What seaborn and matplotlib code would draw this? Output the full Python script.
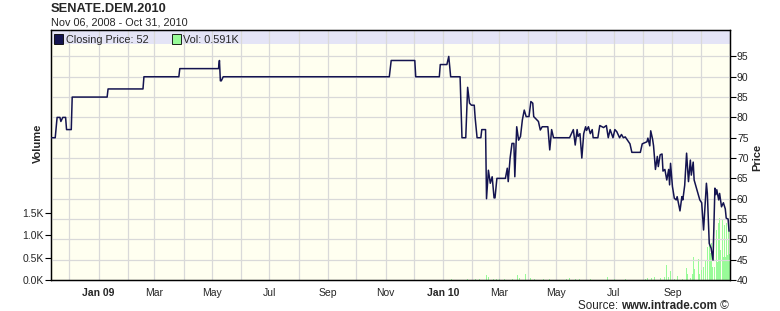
import matplotlib
matplotlib.use("Agg")
import matplotlib.pyplot as plt
import matplotlib.dates as mdates
from matplotlib.patches import Rectangle
import seaborn as sns
import pandas as pd

# ---------------- data ----------------
price_dates = [
    "2008-11-11", "2008-11-16", "2008-11-18", "2008-11-21", "2008-11-22", "2008-11-24", "2008-11-27",
    "2008-11-28", "2008-12-03", "2008-12-04",
    "2009-01-10", "2009-01-11", "2009-02-17", "2009-02-18", "2009-03-27", "2009-03-28", "2009-05-08",
    "2009-05-09", "2009-05-10", "2009-05-11", "2009-05-13",
    "2009-11-05", "2009-11-07", "2009-12-02", "2009-12-03", "2009-12-28", "2009-12-29",
    "2010-01-05", "2010-01-07", "2010-01-09", "2010-01-19", "2010-01-21", "2010-01-25", "2010-01-27",
    "2010-01-29", "2010-01-31", "2010-02-03", "2010-02-04", "2010-02-06", "2010-02-10", "2010-02-11",
    "2010-02-15", "2010-02-16", "2010-02-18", "2010-02-20", "2010-02-22", "2010-02-24", "2010-02-25",
    "2010-02-27", "2010-03-05", "2010-03-08", "2010-03-10", "2010-03-11", "2010-03-13", "2010-03-15",
    "2010-03-17", "2010-03-18", "2010-03-20", "2010-03-22", "2010-03-24", "2010-03-26", "2010-03-28",
    "2010-03-30", "2010-04-02", "2010-04-04", "2010-04-06", "2010-04-07", "2010-04-12", "2010-04-14",
    "2010-04-16", "2010-04-22", "2010-04-24", "2010-04-26", "2010-04-28", "2010-05-15", "2010-05-19",
    "2010-05-21", "2010-05-23", "2010-05-24", "2010-05-26", "2010-05-28", "2010-05-30", "2010-06-01",
    "2010-06-02", "2010-06-04", "2010-06-06", "2010-06-08", "2010-06-09", "2010-06-14", "2010-06-16",
    "2010-06-20", "2010-06-23", "2010-06-25", "2010-06-27", "2010-06-30", "2010-07-02", "2010-07-04",
    "2010-07-07", "2010-07-09", "2010-07-11", "2010-07-13", "2010-07-16", "2010-07-18", "2010-07-20",
    "2010-07-29", "2010-07-31", "2010-08-05", "2010-08-06", "2010-08-08", "2010-08-09", "2010-08-11",
    "2010-08-12", "2010-08-14", "2010-08-16", "2010-08-17", "2010-08-19", "2010-08-21", "2010-08-22",
    "2010-08-24", "2010-08-26", "2010-08-28", "2010-08-29", "2010-08-30", "2010-09-01", "2010-09-03",
    "2010-09-05", "2010-09-06", "2010-09-09", "2010-09-11", "2010-09-12", "2010-09-14", "2010-09-16",
    "2010-09-18", "2010-09-20", "2010-09-21", "2010-09-23", "2010-09-24", "2010-09-27", "2010-09-30",
    "2010-10-02", "2010-10-04", "2010-10-07", "2010-10-08", "2010-10-10", "2010-10-12", "2010-10-14",
    "2010-10-16", "2010-10-17", "2010-10-18", "2010-10-20", "2010-10-21", "2010-10-23", "2010-10-25",
    "2010-10-27", "2010-10-28", "2010-10-30", "2010-10-31",
]
price_values = [
    75, 75, 80, 80, 79, 80, 80,
    77, 77, 85,
    85, 87, 87, 90, 90, 92, 92,
    94, 89, 89, 90,
    90, 94, 94, 90, 90, 93,
    93, 95, 90, 90, 75, 75, 87.4,
    83.5, 83, 83, 79.8, 75, 75, 77,
    77, 60, 67, 63.8, 65.4, 60.2, 60.2,
    65, 65, 65, 67.5, 64.2, 70, 73.6,
    73.6, 65.4, 77.7, 74.4, 75.3, 79.4, 81.8,
    80.2, 80.2, 83.9, 83.5, 80.2, 79, 76.9,
    77.7, 77.7, 72, 77, 75, 75, 77,
    73.2, 77, 75.3, 76, 70, 76, 77.7,
    76.8, 77.7, 76, 77, 75, 75, 78,
    77.5, 78, 75, 77, 75, 77, 76.5,
    75, 75.8, 75, 75.2, 74.2, 73.5, 71.4,
    71.4, 73.5, 74, 74.9, 73, 76.7, 74.6,
    73, 67.2, 70.4, 67.9, 70.8, 71, 66.8,
    67.2, 64.6, 67.2, 63.4, 68.7, 63, 60.1,
    59.7, 60.5, 57, 60.5, 59.7, 63.3, 71.2,
    64.2, 69.5, 65.8, 69, 64.6, 62.1, 59.7,
    59, 52.3, 63.8, 61.3, 49, 47.8, 44.9,
    62.6, 61, 62.2, 59.7, 61.3, 58, 59,
    57.5, 55.2, 55, 52,
]

vol_dates = [
    "2009-02-18", "2009-05-23", "2010-01-10", "2010-01-21", "2010-01-27", "2010-02-04", "2010-02-09",
    "2010-02-16", "2010-02-18", "2010-02-23", "2010-02-27", "2010-03-02", "2010-03-07", "2010-03-16",
    "2010-03-21", "2010-03-23", "2010-03-29", "2010-04-01", "2010-04-04", "2010-04-08", "2010-04-17",
    "2010-04-24", "2010-05-12", "2010-05-15", "2010-05-21", "2010-05-26", "2010-06-06", "2010-06-24",
    "2010-07-02", "2010-07-13", "2010-07-18", "2010-08-03", "2010-08-06", "2010-08-10", "2010-08-13",
    "2010-08-19", "2010-08-22", "2010-08-24", "2010-08-26", "2010-08-28", "2010-08-30", "2010-09-03",
    "2010-09-06", "2010-09-09", "2010-09-12", "2010-09-16", "2010-09-17", "2010-09-20", "2010-09-22",
    "2010-09-23", "2010-09-24", "2010-09-26", "2010-09-27", "2010-09-29", "2010-09-30", "2010-10-02",
    "2010-10-04", "2010-10-06", "2010-10-08", "2010-10-10", "2010-10-11", "2010-10-12", "2010-10-13",
    "2010-10-14", "2010-10-15", "2010-10-16", "2010-10-18", "2010-10-19", "2010-10-20", "2010-10-21",
    "2010-10-22", "2010-10-24", "2010-10-25", "2010-10-26", "2010-10-27", "2010-10-28", "2010-10-29",
    "2010-10-30", "2010-10-31",
]
vol_values = [
    0.01, 0.01, 0.02, 0.01, 0.03, 0.02, 0.02,
    0.11, 0.06, 0.03, 0.02, 0.02, 0.02, 0.03,
    0.11, 0.05, 0.13, 0.07, 0.04, 0.03, 0.02,
    0.02, 0.03, 0.04, 0.03, 0.02, 0.02, 0.06,
    0.02, 0.03, 0.03, 0.03, 0.05, 0.04, 0.06,
    0.04, 0.15, 0.07, 0.34, 0.06, 0.20, 0.03,
    0.09, 0.05, 0.03, 0.28, 0.14, 0.05, 0.14,
    0.52, 0.25, 0.18, 0.24, 0.46, 0.14, 0.22,
    0.30, 0.45, 0.75, 0.90, 0.60, 0.82, 0.30,
    1.05, 0.75, 0.30, 1.12, 0.40, 1.27, 1.38,
    0.67, 1.35, 0.52, 1.23, 0.52, 1.27, 0.56,
    1.35, 0.59,
]

price_ticks = [40, 45, 50, 55, 60, 65, 70, 75, 80, 85, 90, 95]
vol_ticks = [0.0, 0.5, 1.0, 1.5]
vol_tick_labels = ["0.0K", "0.5K", "1.0K", "1.5K"]
x_tick_dates = ["2009-01-01", "2009-03-01", "2009-05-01", "2009-07-01", "2009-09-01", "2009-11-01",
                "2010-01-01", "2010-03-01", "2010-05-01", "2010-07-01", "2010-09-01"]
x_tick_labels = ["Jan 09", "Mar", "May", "Jul", "Sep", "Nov", "Jan 10", "Mar", "May", "Jul", "Sep"]

title = "SENATE.DEM.2010"
subtitle = "Nov 06, 2008 - Oct 31, 2010"
legend_price = "Closing Price: 52"
legend_vol = "Vol: 0.591K"

# ---------------- style ----------------
sns.set_style("white")
plt.rcParams['font.family'] = ['Liberation Sans', 'DejaVu Sans']

BG = '#fffff0'
GRID = '#d9d9d9'
BAND = '#e4e4f6'
LINE = '#141450'
VOL = '#98fb98'
FS = 7.5

W, H = 780, 311
fig = plt.figure(figsize=(W / 100, H / 100), dpi=100)
fig.patch.set_facecolor('white')

L, R, T, B = 50.5, 730, 30, 280
ax = fig.add_axes([L / W, (H - B) / H, (R - L) / W, (B - T) / H])
ax.set_facecolor(BG)

pdf = pd.DataFrame({"date": pd.to_datetime(price_dates), "price": price_values})
vdf = pd.DataFrame({"date": pd.to_datetime(vol_dates), "vol": vol_values})

# volume bars (left axis)
ax.bar(vdf["date"], vdf["vol"], width=0.95, color=VOL, linewidth=0, zorder=2)
ax.set_ylim(0, 5.6)
ax.set_yticks(vol_ticks)
ax.set_yticklabels(vol_tick_labels, fontsize=FS)
ax.set_xlim(pd.Timestamp("2008-11-11"), pd.Timestamp("2010-11-01"))
ax.set_xticks(pd.to_datetime(x_tick_dates))
ax.set_xticklabels(x_tick_labels, fontsize=FS)
for lbl in ax.get_xticklabels():
    if lbl.get_text().startswith("Jan"):
        lbl.set_fontweight("bold")
ax.xaxis.set_minor_locator(mdates.MonthLocator())
ax.tick_params(axis='x', which='minor', length=0)
ax.tick_params(axis='x', which='major', length=3, width=0.8, direction='out', pad=3, color='black')
ax.tick_params(axis='y', length=4, width=0.8, direction='out', pad=1, color='black')
ax.set_axisbelow(True)
ax.grid(axis='x', which='both', color=GRID, lw=0.9, zorder=0.5)
ax.grid(axis='y', visible=False)
ax.add_patch(Rectangle((0, (B - 44) / (B - T)), 1, 14 / (B - T), transform=ax.transAxes,
                       facecolor=BAND, edgecolor='none', zorder=0.3))

# price line (right axis)
ax2 = ax.twinx()
ax2.set_axisbelow(True)
sns.lineplot(data=pdf, x="date", y="price", ax=ax2, color=LINE, lw=1.1, zorder=3)
ax2.set_ylim(40, 101.5)
ax2.set_yticks(price_ticks)
ax2.set_yticklabels([str(v) for v in price_ticks], fontsize=FS)
ax2.tick_params(axis='y', length=4, width=0.8, direction='out', pad=1, color='black')
ax2.grid(axis='y', color=GRID, lw=0.9)
ax2.set_xlabel("")
ax2.set_ylabel("")
ax.set_xlabel("")
ax.set_ylabel("")
ax2.set_xlim(pd.Timestamp("2008-11-11"), pd.Timestamp("2010-11-01"))

for a in (ax, ax2):
    for s in a.spines.values():
        s.set_color('black')
        s.set_linewidth(0.9)

# texts
fig.text(L / W, 1 - 12 / H, title, fontsize=9.3, fontweight='bold', va='baseline', ha='left')
fig.text(L / W, 1 - 25.5 / H, subtitle, fontsize=FS + 0.3, va='baseline', ha='left')
fig.text(38 / W, 1 - 143 / H, "Volume", rotation=90, fontsize=8, fontweight='bold',
         ha='center', va='center')
fig.text(757 / W, 1 - 157 / H, "Price", rotation=90, fontsize=8, fontweight='bold',
         ha='center', va='center')

# legend in band
fig.add_artist(Rectangle((53.5 / W, 1 - 43.5 / H), 9 / W, 9 / H, transform=fig.transFigure,
                         facecolor=LINE, edgecolor='black', lw=0.6))
fig.text(66 / W, 1 - 43 / H, legend_price, fontsize=FS + 0.3, va='baseline', ha='left')
fig.add_artist(Rectangle((171.5 / W, 1 - 43.5 / H), 9 / W, 9 / H, transform=fig.transFigure,
                         facecolor=VOL, edgecolor='black', lw=0.6))
fig.text(183 / W, 1 - 43 / H, legend_vol, fontsize=FS + 0.3, va='baseline', ha='left')

# source line, right-aligned at x=729
renderer = fig.canvas.get_renderer()
ys = 1 - 309 / H
SFS = 8.4
t3 = fig.text(729 / W, ys, " \u00a9", fontsize=SFS, ha='right', va='baseline')
w3 = t3.get_window_extent(renderer).width
t2 = fig.text((729 - w3) / W, ys, "www.intrade.com", fontsize=SFS, fontweight='bold',
              ha='right', va='baseline')
w2 = t2.get_window_extent(renderer).width
fig.text((729 - w3 - w2) / W, ys, "Source: ", fontsize=SFS, ha='right', va='baseline')

fig.savefig("out.png", dpi=100, facecolor='white')
